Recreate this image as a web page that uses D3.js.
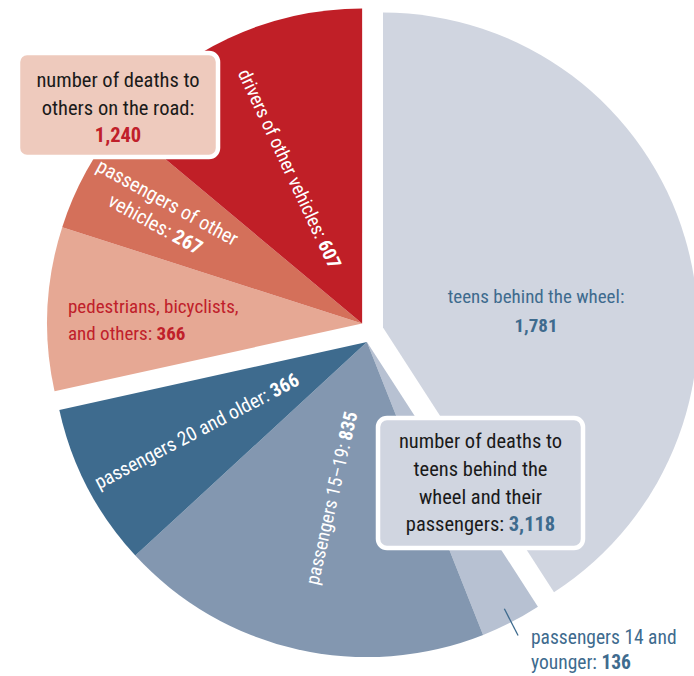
<!DOCTYPE html>
<html>
<head>
<meta charset="utf-8">
<script src="https://cdn.jsdelivr.net/npm/d3@7"></script>
<style>
  html, body { margin: 0; padding: 0; background: #ffffff; }
  svg { display: block; }
  text { font-family: "Liberation Sans Narrow", "Roboto Condensed", "DejaVu Sans Condensed", "Arial Narrow", sans-serif; }
</style>
</head>
<body>
<script>
// ---------------- data ----------------
const categories = [
  "teens behind the wheel",
  "passengers 14 and younger",
  "passengers 15–19",
  "passengers 20 and older",
  "pedestrians, bicyclists, and others",
  "passengers of other vehicles",
  "drivers of other vehicles"
];
const values = [1781, 136, 835, 366, 366, 267, 607];
const groups = ["teens", "passengers", "passengers", "passengers", "others", "others", "others"];

// ---------------- style ----------------
const sliceColors = ["#d0d5e0", "#b7c1d2", "#8397b0", "#3e6b8e", "#e6a894", "#d4705a", "#c01f27"];
const BLUE = "#3e6b8e", RED = "#c0202a", INK = "#1a1a1a";

const W = 694, H = 676;
const C = [371.5, 331], R = 315, EXPLODE = 12;

const svg = d3.select("body").append("svg").attr("width", W).attr("height", H);
const fmt = d3.format(",");

const data = categories.map((c, i) => ({ name: c, value: values[i], group: groups[i], color: sliceColors[i], idx: i }));
const pie = d3.pie().sort(null).value(d => d.value).startAngle(0).endAngle(2 * Math.PI);
const arcs = pie(data);
const arc = d3.arc().innerRadius(0).outerRadius(R);

// group centers (exploded)
const groupNames = Array.from(new Set(groups));
const centers = {};
groupNames.forEach(g => {
  const ga = arcs.filter(a => a.data.group === g);
  const mid = (d3.min(ga, a => a.startAngle) + d3.max(ga, a => a.endAngle)) / 2;
  centers[g] = [C[0] + Math.sin(mid) * EXPLODE, C[1] - Math.cos(mid) * EXPLODE];
});

// slices
arcs.forEach(a => {
  const c = centers[a.data.group];
  svg.append("path")
    .attr("transform", `translate(${c[0]},${c[1]})`)
    .attr("d", arc(a))
    .attr("fill", a.data.color);
});

function midAngle(a) { return (a.startAngle + a.endAngle) / 2; }
function polar(i, r) {
  const a = arcs[i], c = centers[a.data.group], m = midAngle(a);
  return [c[0] + Math.sin(m) * r, c[1] - Math.cos(m) * r];
}

// radial labels reading toward the center
function radialLabel(i, r, lines, color, size, lh) {
  const a = arcs[i], m = midAngle(a);
  const p = polar(i, r);
  const rot = Math.atan2(Math.cos(m), -Math.sin(m)) * 180 / Math.PI;
  const t = svg.append("text")
    .attr("transform", `translate(${p[0]},${p[1]}) rotate(${rot})`)
    .attr("text-anchor", "middle")
    .attr("fill", color)
    .attr("font-size", size);
  const n = lines.length;
  lines.forEach((ln, k) => {
    const y = (k - (n - 1) / 2) * lh + size * 0.35;
    const ts = t.append("tspan").attr("x", 0).attr("y", y);
    ln.forEach(part => {
      ts.append("tspan").attr("font-weight", part.b ? "bold" : "normal").text(part.t);
    });
  });
}

function hLabel(x, y, anchor, lines, color, size, lh) {
  const t = svg.append("text").attr("text-anchor", anchor).attr("fill", color).attr("font-size", size);
  lines.forEach((ln, k) => {
    const ts = t.append("tspan").attr("x", x).attr("y", y + k * lh);
    ln.forEach(part => {
      const s = ts.append("tspan").attr("font-weight", part.b ? "bold" : "normal").text(part.t);
      if (part.c) s.attr("fill", part.c);
    });
  });
}

// drivers of other vehicles
radialLabel(6, 171, [[{ t: "drivers of other vehicles: " }, { t: fmt(values[6]), b: true }]], "#ffffff", 19, 24);
// passengers of other vehicles
radialLabel(5, 229, [[{ t: "passengers of other" }], [{ t: "vehicles: " }, { t: fmt(values[5]), b: true }]], "#ffffff", 20, 25);
// passengers 20 and older
radialLabel(3, 192, [[{ t: "passengers 20 and older: " }, { t: fmt(values[3]), b: true }]], "#ffffff", 19.5, 24);
// passengers 15–19
radialLabel(2, 160, [[{ t: "passengers 15–19: " }, { t: fmt(values[2]), b: true }]], "#ffffff", 19, 24);

// pedestrians (horizontal, red)
hLabel(68, 313, "start", [[{ t: "pedestrians, bicyclists," }], [{ t: "and others: " }, { t: fmt(values[4]), b: true }]], RED, 19, 27);

// teens behind the wheel
hLabel(536, 303, "middle", [[{ t: "teens behind the wheel:" }], [{ t: fmt(values[0]), b: true }]], BLUE, 19, 29);

// passengers 14 and younger: leader + label
{
  const p1 = polar(1, 300), p2 = polar(1, 330);
  svg.append("line").attr("x1", p1[0]).attr("y1", p1[1]).attr("x2", p2[0]).attr("y2", p2[1])
    .attr("stroke", BLUE).attr("stroke-width", 1.3);
  hLabel(531, 644, "start", [[{ t: "passengers 14 and" }], [{ t: "younger: " }, { t: fmt(values[1]), b: true }]], BLUE, 19.5, 25);
}

// summary boxes
function box(x, y, w, h, fill, lines, size, lh, firstBase) {
  svg.append("rect").attr("x", x).attr("y", y).attr("width", w).attr("height", h)
    .attr("rx", 9).attr("ry", 9).attr("fill", fill).attr("stroke", "#ffffff").attr("stroke-width", 4.5);
  hLabel(x + w / 2, y + firstBase, "middle", lines, INK, size, lh);
}
const totalTeens = d3.sum(data.filter(d => d.group !== "others"), d => d.value);
const totalOthers = d3.sum(data.filter(d => d.group === "others"), d => d.value);

box(378, 418, 205, 130, "#d0d5e0",
  [[{ t: "number of deaths to" }], [{ t: "teens behind the" }], [{ t: "wheel and their" }],
   [{ t: "passengers: " }, { t: fmt(totalTeens), b: true, c: BLUE }]], 20.5, 27.8, 30);
box(18, 53, 200, 104, "#eecabd",
  [[{ t: "number of deaths to" }], [{ t: "others on the road:" }], [{ t: fmt(totalOthers), b: true, c: RED }]], 20.5, 27.5, 34);
</script>
</body>
</html>
